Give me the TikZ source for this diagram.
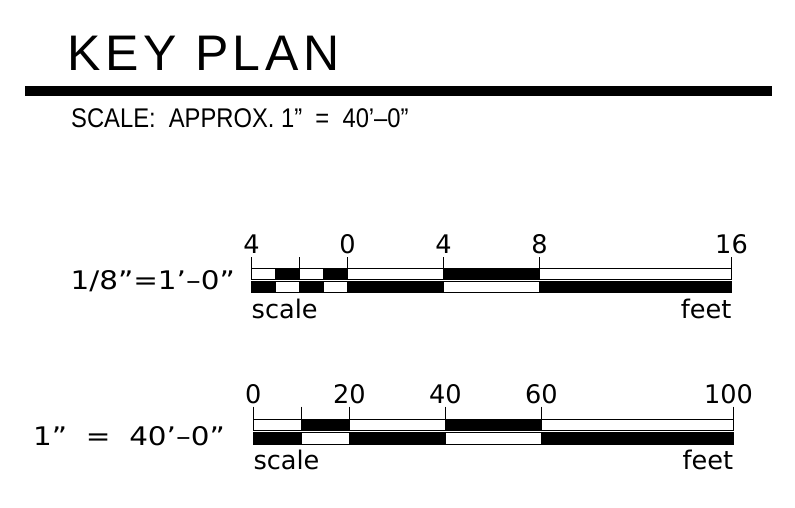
\documentclass[tikz,border=0pt]{standalone}
\usepackage{fontspec}
\setmainfont{Liberation Sans}
\newfontfamily\narrowfont[FakeStretch=0.88]{Liberation Sans}
\newfontfamily\barfont{DejaVu Sans}
\newfontfamily\widebarfont[FakeStretch=1.15]{DejaVu Sans}
\usetikzlibrary{positioning,calc}

\begin{document}
\begin{tikzpicture}[x=1pt, y=-1pt]

        % Looks shared by both scale bars
        \tikzset{
            blackcell/.style={draw=black, fill=black, line width=1pt},
            whitecell/.style={draw=black, fill=white, line width=1pt},
            tickline/.style={draw=black, line width=1.5pt},
            ticklabel/.style={font=\barfont\fontsize{25.6}{30}\selectfont,
                anchor=base, inner sep=0pt},
            unitlabel/.style={font=\barfont\fontsize{25.6}{30}\selectfont,
                inner sep=0pt},
            ratiolabel/.style={font=\widebarfont\fontsize{25.6}{30}\selectfont,
                anchor=base east, inner sep=0pt},
        }

        \useasboundingbox (0,0) rectangle (795,508);

        % Heading with the heavy rule under it
        \node (title) [anchor=base west, inner sep=0pt,
            font=\addfontfeature{LetterSpace=9}\fontsize{50}{60}\selectfont]
            at (67.5,71) {KEY PLAN};
        \coordinate (R1) at (25,86);
        \coordinate (R2) at (772,96);
        \fill (R1) rectangle (R2);
        \node (approx) [anchor=base west, inner sep=0pt,
            font=\narrowfont\fontsize{27}{32}\selectfont]
            at (71,128) {SCALE:\ \ APPROX. 1”\ \ =\ \ 40’–0”};

        % 1/8" = 1'-0" bar, x counted in feet
        \node (ratioA) [ratiolabel] at (235,289.5) {1/8”=1’–0”};
        \begin{scope}[shift={(347.5,0)}, x=24pt]
            \foreach \a/\b/\s in {-4/-3/whitecell, -3/-2/blackcell,
                -2/-1/whitecell, -1/0/blackcell, 0/4/whitecell,
                4/8/blackcell, 8/16/whitecell}
                \draw[\s] (\a,268) rectangle (\b,279.5);
            \foreach \a/\b/\s in {-4/-3/blackcell, -3/-2/whitecell,
                -2/-1/blackcell, -1/0/whitecell, 0/4/blackcell,
                4/8/whitecell, 8/16/blackcell}
                \draw[\s] (\a,281) rectangle (\b,292);
            \foreach \t in {-4,-2,0,4,8,16}
                \draw[tickline] (\t,257) -- (\t,268);

            \node (A1) [ticklabel] at (-4,253) {4};
            \node (A2) [ticklabel] at (0,253) {0};
            \node (A3) [ticklabel] at (4,253) {4};
            \node (A4) [ticklabel] at (8,253) {8};
            \node (A5) [ticklabel] at (16,253) {16};

            \node (scaleA) [unitlabel, anchor=base west] at (-4,318) {scale};
            \node (feetA) [unitlabel, anchor=base east] at (16,318) {feet};
        \end{scope}

        % 1" = 40'-0" bar, x counted in feet
        \node (ratioB) [ratiolabel] at (225,445) {1”\ \ =\ \ 40’–0”};
        \begin{scope}[shift={(253.3,0)}, x=4.8pt]
            \foreach \a/\b/\s in {0/10/whitecell, 10/20/blackcell,
                20/40/whitecell, 40/60/blackcell, 60/100/whitecell}
                \draw[\s] (\a,419.5) rectangle (\b,430.5);
            \foreach \a/\b/\s in {0/10/blackcell, 10/20/whitecell,
                20/40/blackcell, 40/60/whitecell, 60/100/blackcell}
                \draw[\s] (\a,432) rectangle (\b,444.5);
            \foreach \t in {0,10,20,40,60,100}
                \draw[tickline] (\t,406.5) -- (\t,419.5);

            \node (B1) [ticklabel] at (0,403) {0};
            \node (B2) [ticklabel] at (20,403) {20};
            \node (B3) [ticklabel] at (40,403) {40};
            \node (B4) [ticklabel] at (60,403) {60};
            \node (B5) [ticklabel] at (99,403) {100};

            \node (scaleB) [unitlabel, anchor=base west] at (0,469) {scale};
            \node (feetB) [unitlabel, anchor=base east] at (100,469) {feet};
        \end{scope}
\end{tikzpicture}
\end{document}
